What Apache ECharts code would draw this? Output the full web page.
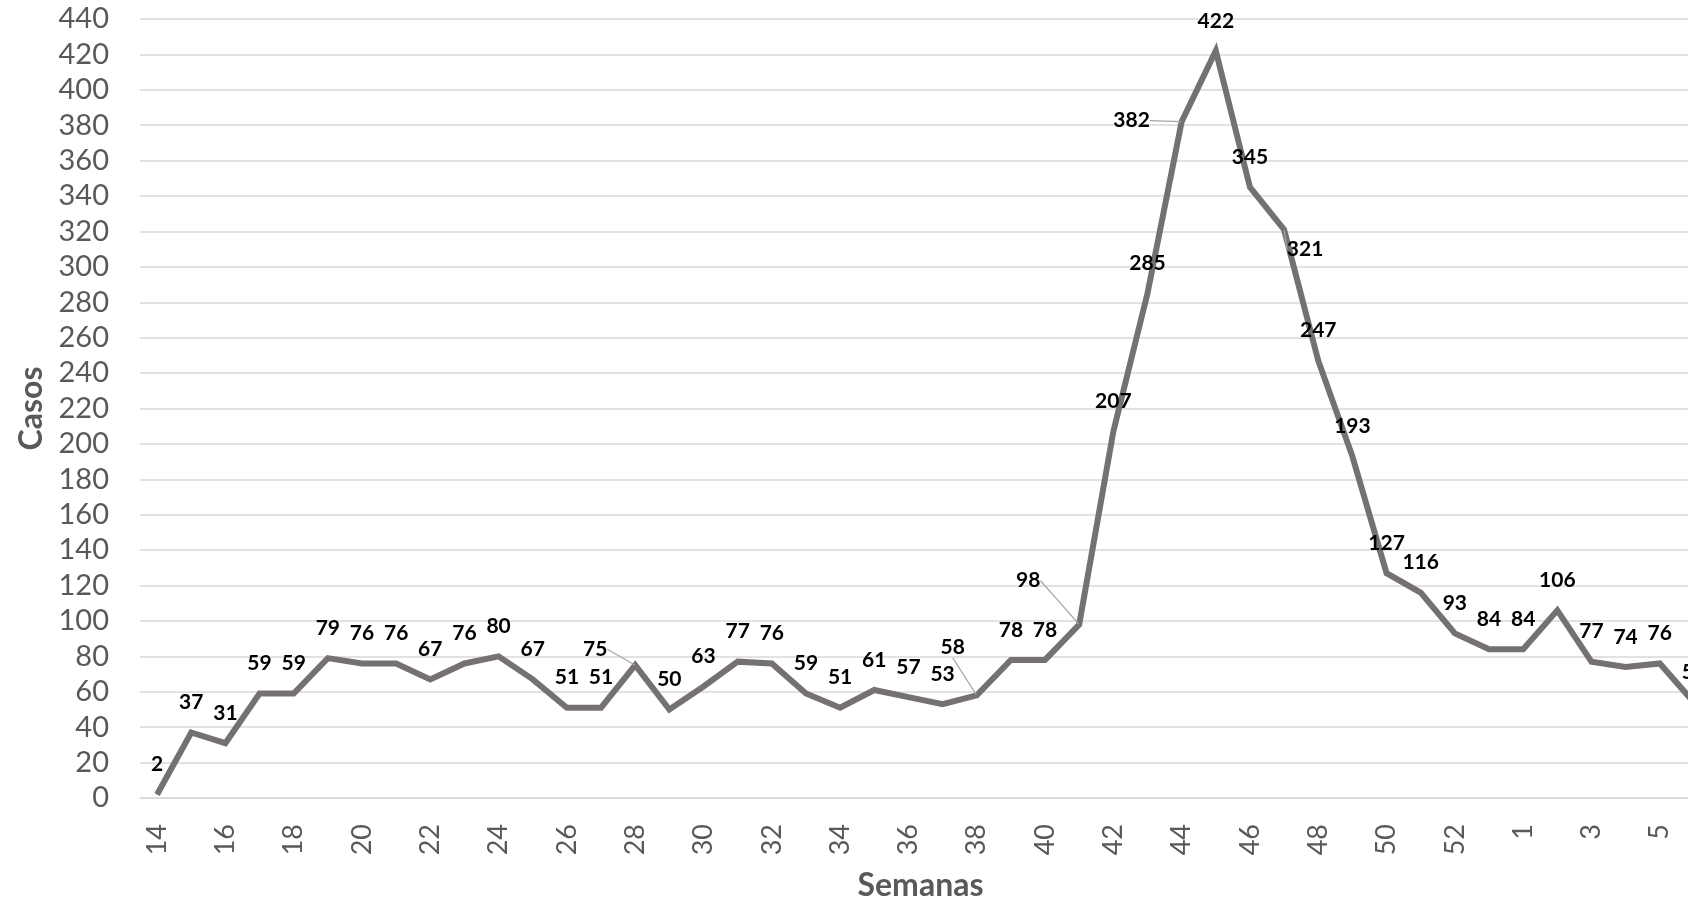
<!DOCTYPE html>
<html>
<head>
<meta charset="utf-8">
<script src="https://cdn.jsdelivr.net/npm/echarts@6/dist/echarts.min.js"></script>
<style>
html,body{margin:0;padding:0;background:#fff;}
#chart{width:1688px;height:904px;}
</style>
</head>
<body>
<div id="chart"></div>
<script>
const weeks = ['14','15','16','17','18','19','20','21','22','23','24','25','26','27','28','29','30','31','32','33','34','35','36','37','38','39','40','41','42','43','44','45','46','47','48','49','50','51','52','53','1','2','3','4','5','6'];
const cases = [2,37,31,59,59,79,76,76,67,76,80,67,51,51,75,50,63,77,76,59,51,61,57,53,58,78,78,98,207,285,382,422,345,321,247,193,127,116,93,84,84,106,77,74,76,54];
const yTicks = {min:0, max:440, interval:20};
const xTitle = 'Semanas';
const yTitle = 'Casos';

// label displacements (Excel-style manual placement with leader lines)
const moved = {14:[-40,14], 24:[-24,-18], 27:[-51,-14], 30:[-50,29], 33:[21,50]};

const chart = echarts.init(document.getElementById('chart'));
const seriesData = cases.map((v,i)=> moved[i] ? {value:v, labelLine:{show:true}} : v);

chart.setOption({
  animation:false,
  grid:{left:140, width:1571, top:19, bottom:106, containLabel:false, outerBoundsMode:'none'},
  xAxis:{
    type:'category', data:weeks, boundaryGap:true,
    name:xTitle, nameLocation:'middle', nameGap:72,
    nameTextStyle:{fontFamily:'Lato', fontWeight:'bold', fontSize:32, color:'#595959', padding:[0,10,0,0]},
    axisLine:{show:true, lineStyle:{color:'#d9d9d9', width:1.5}},
    axisTick:{show:false},
    axisLabel:{interval:1, rotate:90, fontFamily:'Lato', fontSize:27, color:'#595959', margin:26}
  },
  yAxis:{
    type:'value', min:yTicks.min, max:yTicks.max, interval:yTicks.interval,
    name:yTitle, nameLocation:'middle', nameGap:92, nameRotate:90,
    nameTextStyle:{fontFamily:'Lato', fontWeight:'bold', fontSize:32, color:'#595959'},
    axisLine:{show:false}, axisTick:{show:false},
    axisLabel:{fontFamily:'Lato', fontSize:29, color:'#595959', margin:31},
    splitLine:{lineStyle:{color:'#d9d9d9', width:1.5}}
  },
  series:[{
    type:'line', data:seriesData, symbol:'circle', symbolSize:1, showSymbol:true,
    lineStyle:{color:'#767171', width:6, join:'miter'},
    itemStyle:{color:'#767171'},
    label:{show:true, position:'top', distance:19, fontFamily:'Lato', fontWeight:'bold', fontSize:21, color:'#000'},
    labelLine:{show:false, lineStyle:{color:'#a6a6a6', width:1.2}},
    labelLayout:function(p){
      const m = moved[p.dataIndex];
      return m ? {dx:m[0], dy:m[1]} : {};
    }
  }]
});
</script>
</body>
</html>
